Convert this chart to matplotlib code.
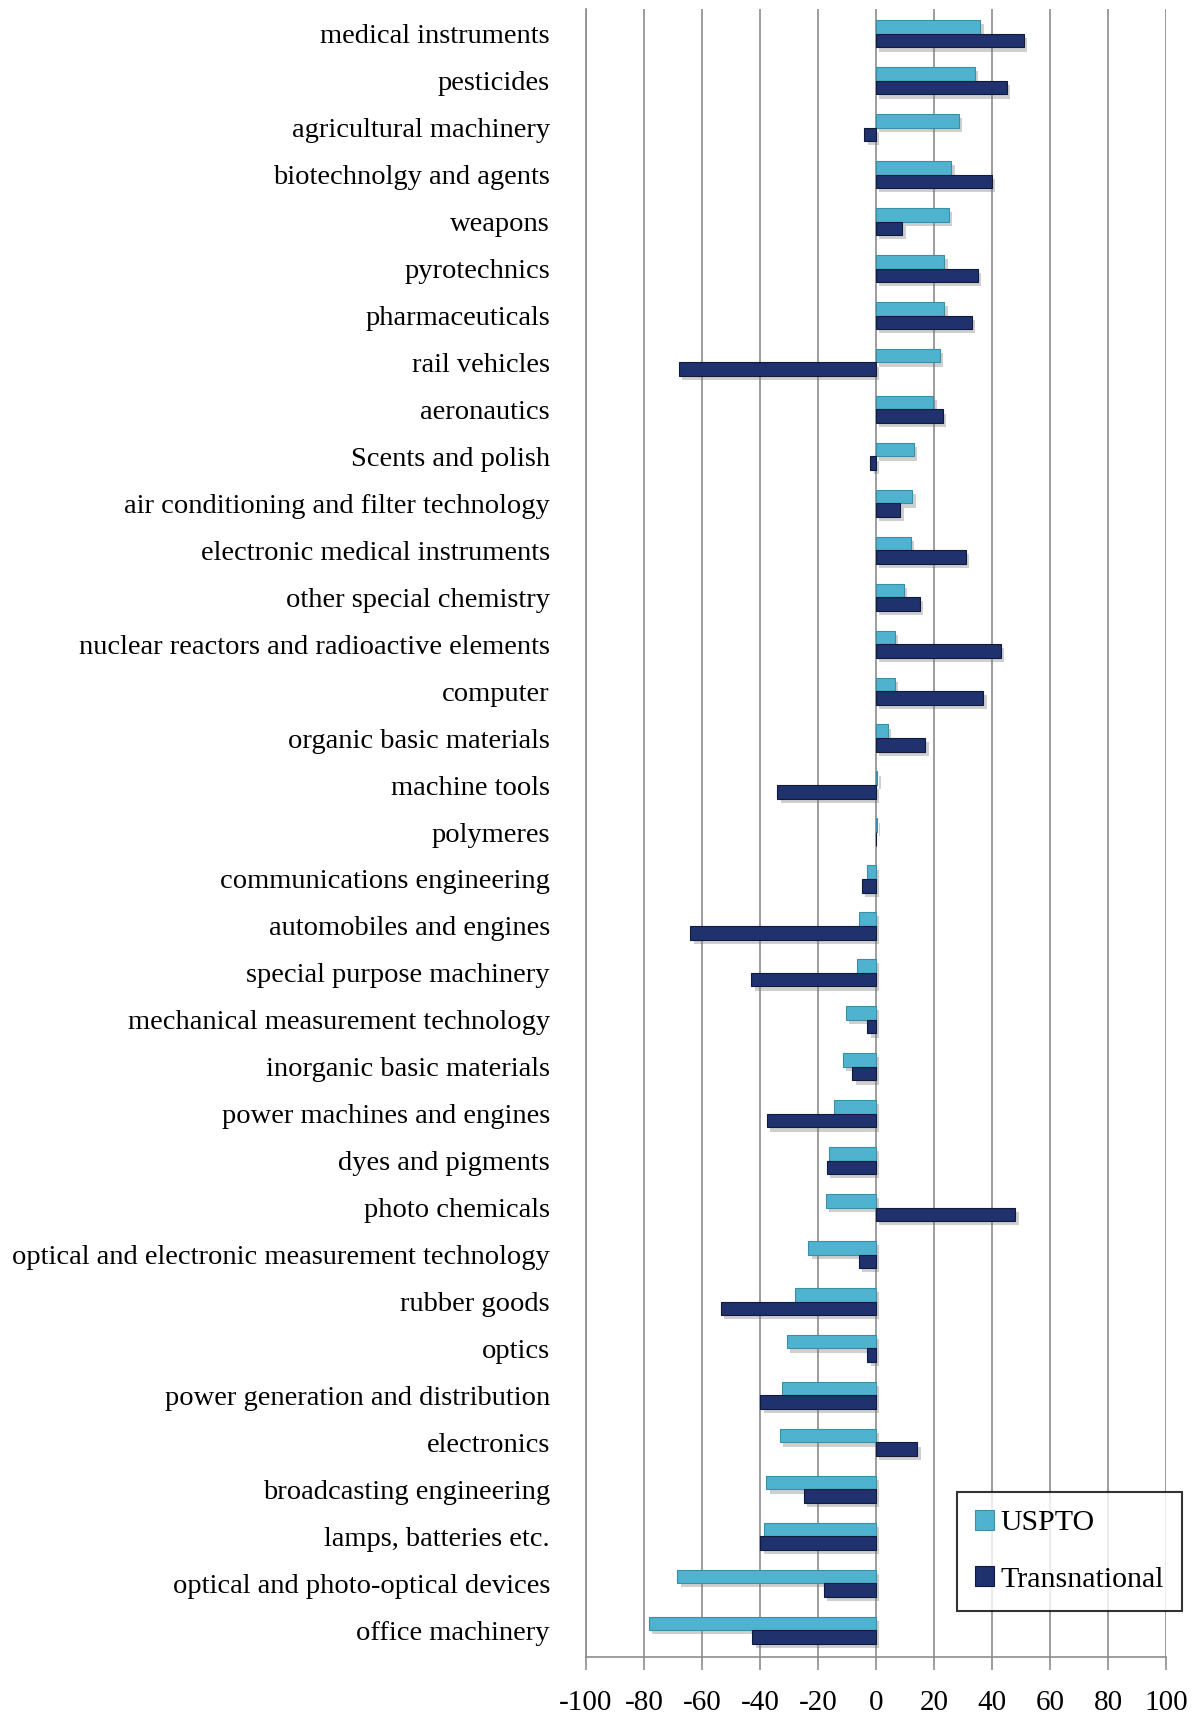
import numpy as np
import matplotlib
matplotlib.use("Agg")
import matplotlib.pyplot as plt
import matplotlib.patheffects as pe

# categories listed top to bottom
categories = [
    "medical instruments", "pesticides", "agricultural machinery",
    "biotechnolgy and agents", "weapons", "pyrotechnics", "pharmaceuticals",
    "rail vehicles", "aeronautics", "Scents and polish",
    "air conditioning and filter technology", "electronic medical instruments",
    "other special chemistry", "nuclear reactors and radioactive elements",
    "computer", "organic basic materials", "machine tools", "polymeres",
    "communications engineering", "automobiles and engines",
    "special purpose machinery", "mechanical measurement technology",
    "inorganic basic materials", "power machines and engines",
    "dyes and pigments", "photo chemicals",
    "optical and electronic measurement technology", "rubber goods", "optics",
    "power generation and distribution", "electronics",
    "broadcasting engineering", "lamps, batteries etc.",
    "optical and photo-optical devices", "office machinery",
]
uspto = [36, 34, 28.5, 26, 25, 23.5, 23.5, 22, 19.7, 13, 12.5, 12, 9.5, 6.5,
         6.5, 4, 0.5, 0.3, -3, -6, -6.5, -10.5, -11.5, -14.5, -16.3, -17.4,
         -23.3, -28, -30.8, -32.3, -33.2, -37.9, -38.6, -68.5, -78.3]
transnational = [51, 45, -4, 40, 9, 35, 33, -68, 23, -2, 8.4, 31, 15, 43, 37,
                 17, -34, 0, -5, -64, -43, -3, -8.2, -37.7, -17, 48, -6, -53.5,
                 -3, -40, 14.2, -25, -40, -18, -42.6]
xticks = list(range(-100, 101, 20))

plt.rcParams['font.family'] = ['Liberation Serif', 'DejaVu Serif']

fig = plt.figure(figsize=(11.97, 17.16), dpi=100)
ax = fig.add_axes([0.4896, 0.0344, 0.4845, 0.9604])

light = "#4fb3cf"
dark = "#1f326e"
y = np.arange(len(categories))
h = 0.29
shadow = [pe.SimplePatchShadow(offset=(2.5, -3), alpha=0.35, shadow_rgbFace="#777777"), pe.Normal()]

b1 = ax.barh(y - h / 2, uspto, height=h, color=light, edgecolor="#3a8ea6",
             linewidth=0.8, label="USPTO", zorder=3)
b2 = ax.barh(y + h / 2, transnational, height=h, color=dark, edgecolor="#111a3a",
             linewidth=0.8, label="Transnational", zorder=3)
for bar in list(b1) + list(b2):
    bar.set_path_effects(shadow)

ax.set_xlim(-100, 100)
ax.set_ylim(34.57, -0.53)
ax.set_xticks(xticks)
ax.set_xticklabels([str(t) for t in xticks], fontsize=21)
ax.set_yticks(y)
ax.set_yticklabels(categories, fontsize=20.5)

ax.xaxis.grid(True, color="#8c8c8c", linewidth=1.2, zorder=0)
ax.set_axisbelow(True)
for s in ["top", "right"]:
    ax.spines[s].set_visible(False)
for s in ["left", "bottom"]:
    ax.spines[s].set_color("#8c8c8c")
    ax.spines[s].set_linewidth(1.2)
ax.tick_params(axis="x", direction="out", length=9, width=1.2, color="#8c8c8c", pad=15)
ax.tick_params(axis="y", length=0, pad=26)

leg = fig.legend(handles=[b1, b2], labels=["USPTO", "Transnational"],
                 loc="upper left", bbox_to_anchor=(957 / 1197, 1 - 1492 / 1716),
                 fontsize=21.5, frameon=True, fancybox=False, edgecolor="black",
                 handlelength=0.65, handleheight=0.65, handletextpad=0.2,
                 labelspacing=1.0, borderpad=0.6, borderaxespad=0)
leg.get_frame().set_linewidth(1.5)
for p in leg.legend_handles:
    p.set_path_effects([])

fig.savefig("out.png", dpi=100)
